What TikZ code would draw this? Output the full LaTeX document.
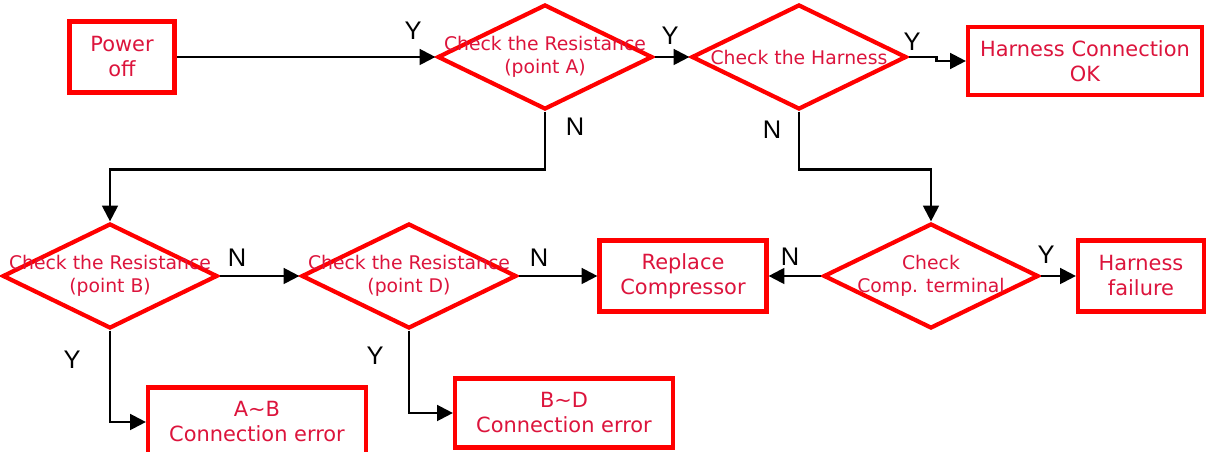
\documentclass[tikz,border=0pt]{standalone}
\usepackage{fontspec}
\setmainfont{DejaVu Sans}
\newfontfamily\yesno{Liberation Sans}
\usetikzlibrary{shapes.geometric,arrows.meta}
\definecolor{boxred}{RGB}{255,0,0}
\definecolor{txtred}{RGB}{220,20,60}
\tikzset{
  stepbox/.style={draw=boxred,line width=2.4pt,inner sep=0pt,align=center,
    text=txtred,font=\fontsize{11.9}{14.2}\selectfont},
  decision/.style={diamond,draw=boxred,line width=2.4pt,inner sep=0pt,
    minimum width=4.3cm,minimum height=2.1cm},
  dectext/.style={text=txtred,align=center,inner sep=0pt,
    font=\fontsize{10.7}{13.2}\selectfont},
  link/.style={line width=1.3pt,-{Triangle[length=9pt,width=9pt]}},
  answer/.style={font=\yesno\fontsize{14.5}{17}\selectfont}
}
\begin{document}
\begin{tikzpicture}[x=0.02cm,y=-0.02cm]
  \useasboundingbox (0,0) rectangle (1218,452);

  %top row
  \node[stepbox,minimum width=2.1cm,minimum height=1.42cm] (power) at (122,57) {Power\\off};
  \node[decision,label={[dectext]center:Check the Resistance\\(point A)}] (resA) at (545,57) {};
  \node[decision,label={[dectext]center:Check the Harness}] (harn) at (799,57) {};
  \node[stepbox,minimum width=4.68cm,minimum height=1.36cm] (hok) at (1085,61) {Harness Connection\\OK};

  %middle row
  \node[decision,label={[dectext]center:Check the Resistance\\(point B)}] (resB) at (110,276) {};
  \node[decision,label={[dectext]center:Check the Resistance\\(point D)}] (resD) at (409,276) {};
  \node[stepbox,minimum width=3.34cm,minimum height=1.42cm] (repl) at (683,276) {Replace\\Compressor};
  \node[decision,label={[dectext]center:Check\\Comp. terminal}] (comp) at (931,276) {};
  \node[stepbox,minimum width=2.52cm,minimum height=1.42cm] (hfail) at (1141,276) {Harness\\failure};

  %bottom row
  \node[stepbox,minimum width=4.36cm,minimum height=1.38cm] (errAB) at (257,422) {A\textasciitilde B\\Connection error};
  \node[stepbox,minimum width=4.36cm,minimum height=1.38cm] (errBD) at (564,413) {B\textasciitilde D\\Connection error};

  %connectors
  \draw[link] (power) -- (resA);
  \draw[link] (resA) -- (harn);
  \draw[link] (harn.east) -- ++(28,0) |- (hok.west);
  \draw[link] (resA.south) -- ++(0,58) -| (resB.north);
  \draw[link] (harn.south) -- ++(0,58) -| (comp.north);
  \draw[link] (resB) -- (resD);
  \draw[link] (resD) -- (repl);
  \draw[link] (comp) -- (repl);
  \draw[link] (comp) -- (hfail);
  \draw[link] (resB.south) |- (errAB.west);
  \draw[link] (resD.south) |- (errBD.west);

  %answers
  \node[answer] (yA) at (413,31) {Y};
  \node[answer] (yH) at (670,36) {Y};
  \node[answer] (yOK) at (912,42) {Y};
  \node[answer] (nA) at (575,127) {N};
  \node[answer] (nH) at (772,130) {N};
  \node[answer] (nB) at (237,258) {N};
  \node[answer] (nD) at (539,258) {N};
  \node[answer] (nC) at (790,257) {N};
  \node[answer] (yC) at (1046,255) {Y};
  \node[answer] (yB) at (72,360) {Y};
  \node[answer] (yD) at (375,356) {Y};
\end{tikzpicture}
\end{document}
